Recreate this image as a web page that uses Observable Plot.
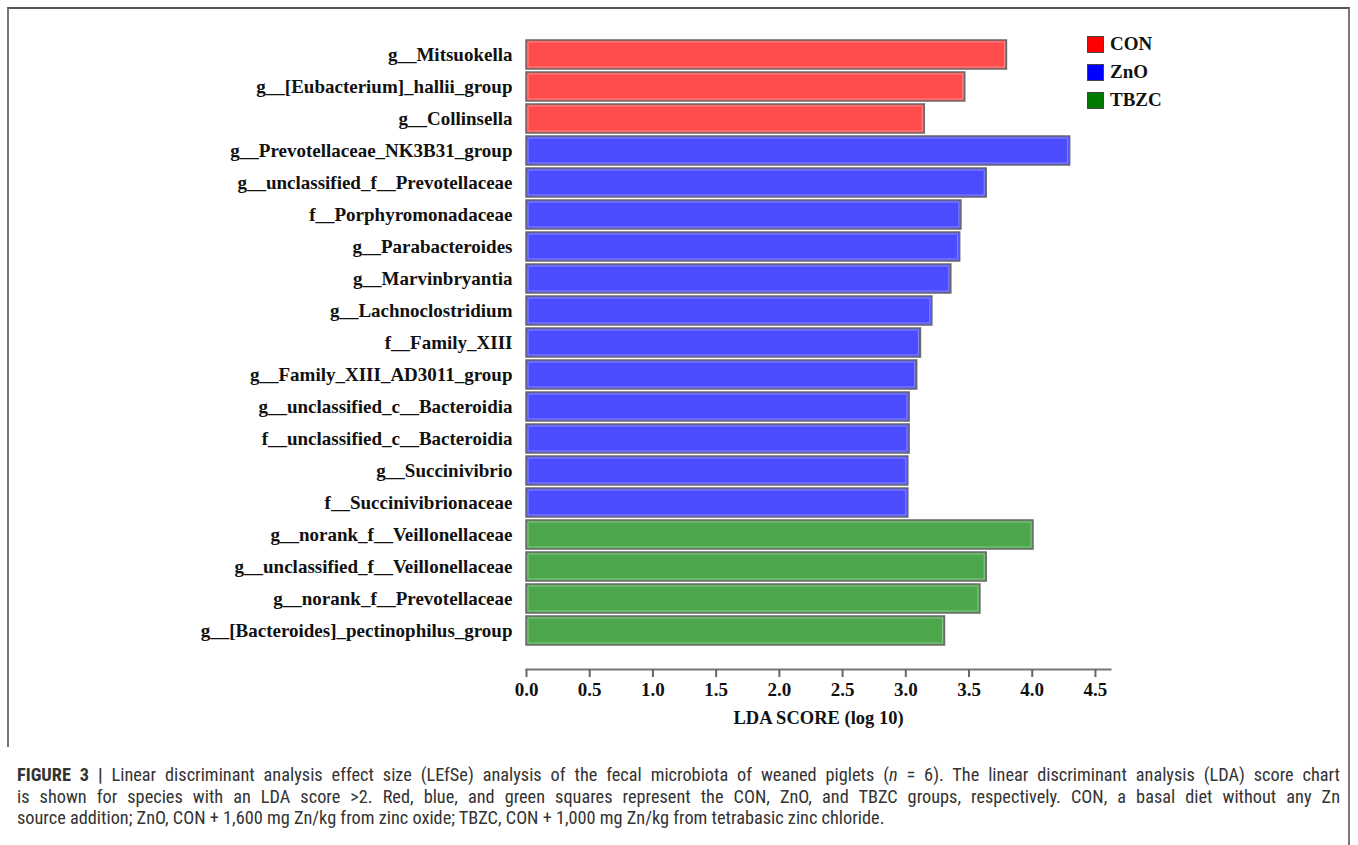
<!DOCTYPE html>
<html>
<head>
<meta charset="utf-8">
<script src="https://cdn.jsdelivr.net/npm/d3@7"></script>
<script src="https://cdn.jsdelivr.net/npm/@observablehq/plot@0.6"></script>
<style>
  html, body { margin: 0; padding: 0; background: #fff; }
  body { width: 1358px; height: 845px; position: relative; overflow: hidden; }
  #frame { position: absolute; left: 7px; top: 7px; width: 1343px; height: 740px; border-top: 2px solid #555; border-left: 2px solid #777; border-right: 2px solid #777; box-sizing: border-box; }
  #frame2 { position: absolute; left: 1348px; top: 747px; width: 2px; height: 98px; background: #777; }
  #chart { position: absolute; left: 0; top: 0; }
  #legend { position: absolute; left: 1087px; top: 30px; font-family: "Liberation Serif", "Times New Roman", serif; font-weight: bold; font-size: 19px; color: #111; }
  .item { display: flex; align-items: center; height: 28px; }
  .sw { width: 15px; height: 15px; border: 1px solid #444; margin-right: 6px; }
  #caption { position: absolute; left: 17px; top: 764px; width: 1323px; font-family: "Roboto Condensed", "Liberation Sans Narrow", sans-serif; font-size: 18.3px; line-height: 21.5px; color: #333; }
  #caption .j { text-align: justify; text-align-last: justify; white-space: nowrap; }
  #caption .l { text-align: left; white-space: nowrap; }
</style>
</head>
<body>
<div id="frame"></div>
<div id="frame2"></div>
<div id="chart"></div>
<div id="legend"></div>
<div id="caption"></div>
<script>
const labels = [
  "g__Mitsuokella",
  "g__[Eubacterium]_hallii_group",
  "g__Collinsella",
  "g__Prevotellaceae_NK3B31_group",
  "g__unclassified_f__Prevotellaceae",
  "f__Porphyromonadaceae",
  "g__Parabacteroides",
  "g__Marvinbryantia",
  "g__Lachnoclostridium",
  "f__Family_XIII",
  "g__Family_XIII_AD3011_group",
  "g__unclassified_c__Bacteroidia",
  "f__unclassified_c__Bacteroidia",
  "g__Succinivibrio",
  "f__Succinivibrionaceae",
  "g__norank_f__Veillonellaceae",
  "g__unclassified_f__Veillonellaceae",
  "g__norank_f__Prevotellaceae",
  "g__[Bacteroides]_pectinophilus_group"
];
const scores = [3.80, 3.47, 3.15, 4.30, 3.64, 3.44, 3.43, 3.36, 3.21, 3.12, 3.09, 3.03, 3.03, 3.02, 3.02, 4.01, 3.64, 3.59, 3.31];
const groups = ["CON","CON","CON","ZnO","ZnO","ZnO","ZnO","ZnO","ZnO","ZnO","ZnO","ZnO","ZnO","ZnO","ZnO","TBZC","TBZC","TBZC","TBZC"];
const groupNames = ["CON", "ZnO", "TBZC"];
const barColors = ["#ff4b4b", "#4b4bff", "#4ca64c"];
const legendColors = ["#ff0000", "#0000ff", "#007a00"];
const xTicks = [0, 0.5, 1, 1.5, 2, 2.5, 3, 3.5, 4, 4.5];
const xLabel = "LDA SCORE (log 10)";

const data = labels.map((name, i) => ({name, score: scores[i], group: groups[i]}));

const serif = "'Liberation Serif', 'Times New Roman', serif";

const chart = Plot.plot({
  width: 1358,
  height: 735,
  marginLeft: 526,
  marginRight: 248,
  marginTop: 30,
  marginBottom: 66,
  style: {fontFamily: serif, fontWeight: "bold", color: "#111", background: "transparent"},
  x: {domain: [0, 4.619]},
  y: {domain: labels, range: [30.7, 654.3], padding: 0.1},
  color: {domain: groupNames, range: barColors},
  marks: [
    Plot.barX(data, {x1: 0, x2: "score", y: "name", fill: "group", stroke: "#6a6a6a", strokeWidth: 1.5}),
    Plot.barX(data, {x1: 0, x2: "score", y: "name", fill: "none", stroke: "#ffffff", strokeOpacity: 0.35, strokeWidth: 1, insetTop: 2, insetBottom: 2, insetLeft: 2, insetRight: 2}),
    Plot.frame({anchor: "bottom", stroke: "#777", strokeWidth: 2}),
    Plot.axisX({ticks: xTicks, tickFormat: d3.format(".1f"), tickSize: 8, tickPadding: 5, stroke: "#666", strokeWidth: 2, fontSize: 19, fill: "#111", label: null}),
    Plot.axisX({ticks: [], tickSize: 0, fontSize: 18.5, fill: "#111", label: xLabel, labelAnchor: "center", labelArrow: "none", labelOffset: 54}),
    Plot.axisY({tickSize: 0, tickPadding: 14, fontSize: 19, fill: "#111", label: null})
  ]
});
document.getElementById("chart").appendChild(chart);

const legend = document.getElementById("legend");
groupNames.forEach((g, i) => {
  const item = document.createElement("div");
  item.className = "item";
  const sw = document.createElement("div");
  sw.className = "sw";
  sw.style.background = legendColors[i];
  const t = document.createElement("span");
  t.textContent = g;
  item.appendChild(sw);
  item.appendChild(t);
  legend.appendChild(item);
});

document.getElementById("caption").innerHTML =
  "<div class='j'><b>FIGURE 3 |</b> Linear discriminant analysis effect size (LEfSe) analysis of the fecal microbiota of weaned piglets (<i>n</i> = 6). The linear discriminant analysis (LDA) score chart</div>" +
  "<div class='j'>is shown for species with an LDA score &gt;2. Red, blue, and green squares represent the CON, ZnO, and TBZC groups, respectively. CON, a basal diet without any Zn</div>" +
  "<div class='l'>source addition; ZnO, CON + 1,600 mg Zn/kg from zinc oxide; TBZC, CON + 1,000 mg Zn/kg from tetrabasic zinc chloride.</div>";
</script>
</body>
</html>
